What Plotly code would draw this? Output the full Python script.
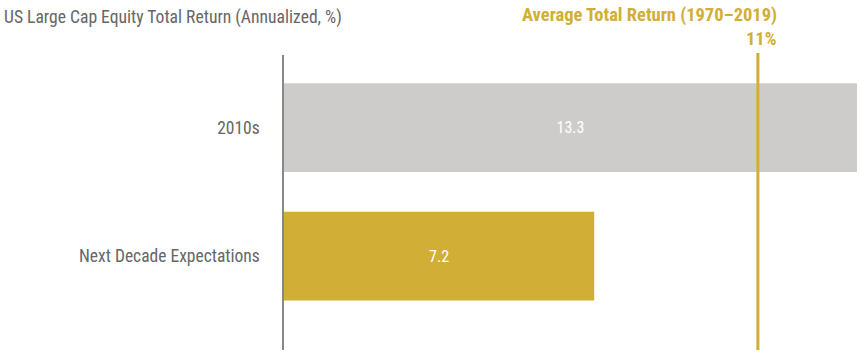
import plotly.graph_objects as go

categories = ["2010s", "Next Decade Expectations"]
values = [13.3, 7.2]
bar_colors = ["#cdcccb", "#d1ae35"]
avg_return = 11
avg_label = "Average Total Return (1970–2019)"
title = "US Large Cap Equity Total Return (Annualized, %)"

FONT = "Liberation Sans Narrow, Roboto Condensed, Roboto, sans-serif"

fig = go.Figure()
fig.add_trace(go.Bar(
    x=values, y=categories, orientation="h",
    marker=dict(color=bar_colors, line=dict(width=0)),
    width=0.69,
    text=[f"{v:.1f}" for v in values],
    textposition="inside", insidetextanchor="middle",
    textfont=dict(color="white", size=16, family=FONT),
    hoverinfo="skip",
))

fig.add_shape(type="line", xref="x", yref="paper", x0=avg_return, x1=avg_return,
              y0=0, y1=1.007, line=dict(color="#d1ae35", width=3))

fig.add_annotation(xref="x", yref="paper", x=avg_return, y=1.0, yshift=40, xshift=21,
                   text=f"<b>{avg_label}</b>", showarrow=False,
                   xanchor="right", yanchor="middle",
                   font=dict(color="#d1ae35", size=18.5, family=FONT))
fig.add_annotation(xref="x", yref="paper", x=avg_return, y=1.0, yshift=16, xshift=21,
                   text=f"<b>{avg_return}%</b>", showarrow=False,
                   xanchor="right", yanchor="middle",
                   font=dict(color="#d1ae35", size=18.5, family=FONT))

fig.update_layout(
    width=860, height=358,
    margin=dict(l=284, r=0, t=55, b=8),
    plot_bgcolor="white", paper_bgcolor="white",
    showlegend=False,
    title=dict(text=title, x=4/860, xref="container", xanchor="left",
               y=1 - 17/358, yref="container", yanchor="middle",
               font=dict(size=17.6, color="#666666", family=FONT)),
    xaxis=dict(range=[0, 13.37], showgrid=False, zeroline=False, showticklabels=False,
               showline=False, ticks=""),
    yaxis=dict(range=[1.73, -0.564], showgrid=False, zeroline=False,
               showline=True, linecolor="#888888", linewidth=1.5,
               ticks="", ticklabelstandoff=19,
               tickfont=dict(size=17.5, color="#666666", family=FONT)),
)

fig.write_html("out.html")
